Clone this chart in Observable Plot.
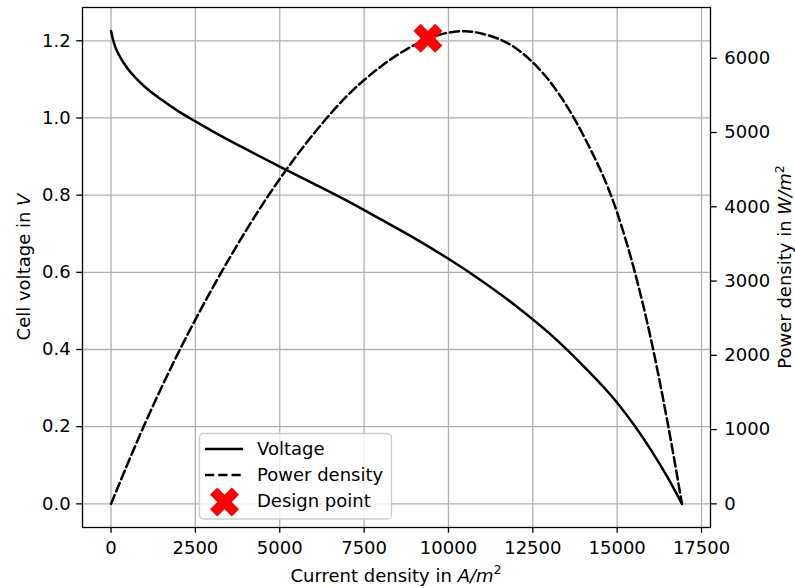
<!DOCTYPE html>
<html>
<head>
<meta charset="utf-8">
<script src="https://cdn.jsdelivr.net/npm/d3@7"></script>
<script src="https://cdn.jsdelivr.net/npm/@observablehq/plot@0.6"></script>
<style>
  body { margin: 0; background: #fff; }
  #chart { width: 795px; height: 588px; }
  #chart svg { display: block; }
</style>
</head>
<body>
<div id="chart"></div>
<script>
// Polarization curve: current density (A/m²) vs. cell voltage (V)
const voltageCurrent = [0, 50, 130, 250, 500, 750, 1000, 1500, 2000, 2500, 3000, 4000, 5000, 6000, 7000, 8000, 9000, 10000, 11000, 12000, 13000, 14000, 15000, 16000, 16500, 16920];
const voltage        = [1.225, 1.206, 1.183, 1.161, 1.127, 1.102, 1.081, 1.047, 1.017, 0.991, 0.966, 0.919, 0.874, 0.830, 0.785, 0.737, 0.688, 0.635, 0.577, 0.513, 0.441, 0.357, 0.262, 0.140, 0.068, 0.0];

// Power density curve: current density (A/m²) vs. power density (W/m²)
const powerCurrent = [0, 1000, 2000, 3000, 4000, 5000, 6000, 7000, 8000, 9000, 10000, 10500, 11000, 12000, 12500, 13000, 14000, 15000, 15500, 16000, 16500, 16920];
const power        = [0, 1075, 2040, 2900, 3680, 4375, 4980, 5495, 5890, 6180, 6345, 6365, 6330, 6135, 5944, 5690, 4960, 3920, 3160, 2220, 1080, 0];

// Selected operating point
const designCurrent = [9390];
const designPower = [6270];

// Tick values
const xTicks = [0, 2500, 5000, 7500, 10000, 12500, 15000, 17500];
const voltageTicks = [0, 0.2, 0.4, 0.6, 0.8, 1.0, 1.2];
const powerTicks = [0, 1000, 2000, 3000, 4000, 5000, 6000];

const W = 795, H = 588;
const M = { top: 7, right: 85, bottom: 61, left: 82 };
const FS = 18;
const GRID = "#b0b0b0";
const font = "DejaVu Sans";

// Axis limits with 5% padding on each side
const iMax = d3.max([...voltageCurrent, ...powerCurrent]);
const vMax = d3.max(voltage);
const pMax = d3.max(power);
const xDomain = [-0.05 * iMax, 1.05 * iMax];
const yDomain = [-0.05 * vMax, 1.05 * vMax];
// Power is plotted on the voltage scale; k converts W/m² to that scale
const k = yDomain[1] / (1.05 * pMax);

const vData = voltageCurrent.map((c, i) => ({ c, v: voltage[i] }));
const pData = powerCurrent.map((c, i) => ({ c, p: power[i] }));
const design = designCurrent.map((c, i) => ({ c, p: designPower[i] }));

// Filled "X" marker
const xFilled = {
  draw(ctx, size) {
    const s = Math.sqrt(size / Math.PI);
    const pts = [[-0.5,-1],[0,-0.5],[0.5,-1],[1,-0.5],[0.5,0],[1,0.5],[0.5,1],[0,0.5],[-0.5,1],[-1,0.5],[-0.5,0],[-1,-0.5]];
    ctx.moveTo(pts[0][0] * s, pts[0][1] * s);
    for (let j = 1; j < pts.length; j++) ctx.lineTo(pts[j][0] * s, pts[j][1] * s);
    ctx.closePath();
  }
};

const chart = Plot.plot({
  width: W,
  height: H,
  marginTop: M.top,
  marginRight: M.right,
  marginBottom: M.bottom,
  marginLeft: M.left,
  style: { fontFamily: font, fontSize: FS + "px", background: "white", color: "black" },
  x: { domain: xDomain },
  y: { domain: yDomain },
  marks: [
    Plot.gridX(xTicks, { stroke: GRID, strokeOpacity: 1, strokeWidth: 1.3 }),
    Plot.gridY(voltageTicks, { stroke: GRID, strokeOpacity: 1, strokeWidth: 1.3 }),
    Plot.line(vData, { x: "c", y: "v", stroke: "black", strokeWidth: 2.5, curve: "monotone-x" }),
    Plot.line(pData, { x: "c", y: d => d.p * k, stroke: "black", strokeWidth: 2.5, strokeDasharray: "9.25,4", curve: "monotone-x" }),
    Plot.dot(design, { x: "c", y: d => d.p * k, symbol: xFilled, r: 14.5, fill: "red", stroke: "none" }),
    Plot.axisX(xTicks, { anchor: "bottom", label: null, tickSize: 5.8, tickPadding: 8, strokeWidth: 1.3, tickFormat: d => String(d) }),
    Plot.axisY(voltageTicks, { anchor: "left", label: null, tickSize: 5.8, tickPadding: 6, strokeWidth: 1.3, tickFormat: d => d.toFixed(1) }),
    Plot.axisY(powerTicks.map(p => p * k), { anchor: "right", label: null, tickSize: 5.8, tickPadding: 8, strokeWidth: 1.3, tickFormat: d => String(Math.round(d / k)) }),
    Plot.frame({ stroke: "black", strokeWidth: 1.3 })
  ]
});

const svg = d3.select(chart);

// Axis titles with italic units and superscript exponent
function unitLabel(plain, unit) {
  const t = svg.append("text").attr("font-family", font).attr("font-size", FS).attr("fill", "black");
  t.append("tspan").text(plain);
  t.append("tspan").attr("font-style", "italic").text(unit);
  return t;
}
const midY = (M.top + H - M.bottom) / 2;

const xl = unitLabel("Current density in ", "A/m");
xl.append("tspan").attr("font-size", FS * 0.7).attr("dy", -7.5).text("2");
xl.attr("x", (M.left + W - M.right) / 2).attr("y", 581.5).attr("text-anchor", "middle");

const yl = unitLabel("Cell voltage in ", "V");
yl.attr("text-anchor", "middle").attr("transform", `translate(29.5,${midY}) rotate(-90)`);

const yr = unitLabel("Power density in ", "W/m");
yr.append("tspan").attr("font-size", FS * 0.7).attr("dy", -7.5).text("2");
yr.attr("text-anchor", "middle").attr("transform", `translate(791,${midY}) rotate(-90)`);

// Legend
const lg = svg.append("g").attr("font-family", font).attr("font-size", FS).attr("text-anchor", "start");
lg.append("rect").attr("x", 199.5).attr("y", 433.5).attr("width", 192).attr("height", 85.5)
  .attr("rx", 4).attr("fill", "white").attr("fill-opacity", 0.8).attr("stroke", "#cccccc").attr("stroke-width", 1.3);
const rows = [
  { label: "Voltage", kind: "solid" },
  { label: "Power density", kind: "dash" },
  { label: "Design point", kind: "marker" }
];
rows.forEach((r, i) => {
  const cy = 449 + i * 26;
  if (r.kind === "marker") {
    const p = d3.path();
    xFilled.draw(p, 14.5 * 14.5 * Math.PI);
    lg.append("path").attr("d", p.toString()).attr("fill", "red").attr("transform", `translate(224.5,${cy + 1})`);
  } else {
    lg.append("line").attr("x1", 205).attr("x2", 243).attr("y1", cy).attr("y2", cy)
      .attr("stroke", "black").attr("stroke-width", 2.5)
      .attr("stroke-dasharray", r.kind === "dash" ? "9.25,4" : null);
  }
  lg.append("text").attr("x", 257).attr("y", cy).attr("dy", "0.35em").attr("text-anchor", "start").attr("fill", "black").text(r.label);
});

document.getElementById("chart").appendChild(chart);
</script>
</body>
</html>
